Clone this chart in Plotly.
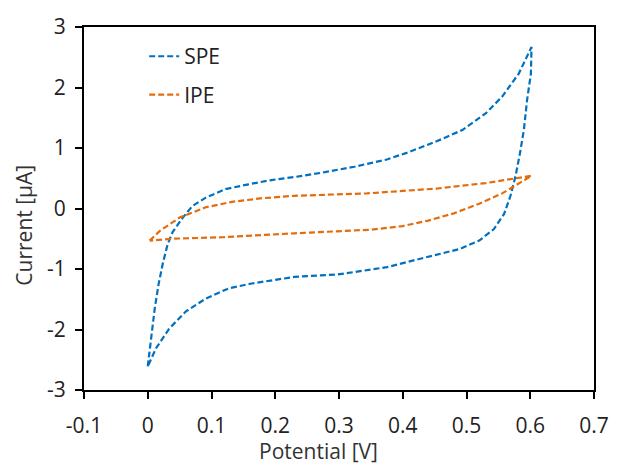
import plotly.graph_objects as go

# SPE cyclic voltammogram (forward sweep then reverse)
spe_x = [0.000, 0.006, 0.011, 0.017, 0.024, 0.031, 0.039, 0.055, 0.070, 0.091,
         0.122, 0.158, 0.194, 0.230, 0.272, 0.324, 0.375, 0.406, 0.453, 0.494,
         0.530, 0.556, 0.582, 0.602,
         0.601, 0.595, 0.590, 0.584, 0.577, 0.569, 0.559, 0.543, 0.520, 0.489,
         0.453, 0.420, 0.375, 0.298, 0.230, 0.194, 0.163, 0.127, 0.091, 0.060,
         0.034, 0.013, 0.000]
spe_y = [-2.61, -2.10, -1.65, -1.25, -0.89, -0.60, -0.39, -0.15, 0.04, 0.18,
         0.32, 0.40, 0.47, 0.52, 0.59, 0.69, 0.81, 0.92, 1.11, 1.30,
         1.57, 1.85, 2.23, 2.67,
         2.23, 1.79, 1.30, 0.92, 0.54, 0.21, -0.09, -0.34, -0.53, -0.67,
         -0.77, -0.85, -0.97, -1.09, -1.13, -1.19, -1.24, -1.32, -1.49, -1.70,
         -1.98, -2.31, -2.61]

# IPE cyclic voltammogram
ipe_x = [0.003, 0.019, 0.050, 0.091, 0.132, 0.179, 0.230, 0.344, 0.453, 0.530,
         0.602,
         0.556, 0.520, 0.480, 0.440, 0.400, 0.350, 0.300, 0.230, 0.117, 0.039, 0.003]
ipe_y = [-0.53, -0.37, -0.15, 0.02, 0.11, 0.17, 0.21, 0.25, 0.33, 0.42,
         0.54,
         0.25, 0.08, -0.08, -0.20, -0.29, -0.35, -0.38, -0.41, -0.475, -0.50, -0.53]

x_ticks = [-0.1, 0, 0.1, 0.2, 0.3, 0.4, 0.5, 0.6, 0.7]
x_labels = ["-0.1", "0", "0.1", "0.2", "0.3", "0.4", "0.5", "0.6", "0.7"]
y_ticks = [-3, -2, -1, 0, 1, 2, 3]
y_labels = ["-3", "-2", "-1", "0", "1", "2", "3"]

FONT = "Open Sans"

fig = go.Figure()
fig.add_trace(go.Scatter(x=spe_x, y=spe_y, mode="lines", name="SPE", legendgroup="a",
                         line=dict(color="#0070C0", width=2.2, dash="6px,3px")))
fig.add_trace(go.Scatter(x=ipe_x, y=ipe_y, mode="lines", name="IPE", legendgroup="b",
                         line=dict(color="#E46C0A", width=2.2, dash="6px,3px")))

axis_common = dict(showgrid=False, zeroline=False, showline=True, linecolor="black",
                   linewidth=2, mirror=True, ticks="outside", ticklen=7, tickwidth=2,
                   tickcolor="black", tickfont=dict(family=FONT, size=21, color="#222222"))

fig.update_xaxes(range=[-0.1, 0.7], tickvals=x_ticks, ticktext=x_labels,
                 ticklabelstandoff=9, **axis_common)
fig.update_yaxes(range=[-3, 3], tickvals=y_ticks, ticktext=y_labels,
                 ticklabelstandoff=5, **axis_common)

fig.update_layout(
    width=621, height=466,
    margin=dict(l=84, r=18, t=19, b=76),
    paper_bgcolor="white", plot_bgcolor="white",
    font=dict(family=FONT, color="#222222"),
    showlegend=True,
    legend=dict(x=0.118, y=0.975, xanchor="left", yanchor="top",
                bgcolor="rgba(0,0,0,0)", font=dict(family=FONT, size=21, color="#222222"),
                tracegroupgap=8),
    annotations=[
        dict(text="Potential [V]", xref="paper", yref="paper", x=0.459, y=-0.167,
             xanchor="center", yanchor="middle", showarrow=False,
             font=dict(family=FONT, size=21, color="#333333")),
        dict(text="Current [µA]", xref="paper", yref="paper", x=-0.118, y=0.455,
             xanchor="center", yanchor="middle", showarrow=False, textangle=-90,
             font=dict(family=FONT, size=21, color="#333333")),
    ],
)

fig.write_html("out.html", config={"displayModeBar": False},
               post_script="document.body.style.margin='0';document.body.style.padding='0';")
